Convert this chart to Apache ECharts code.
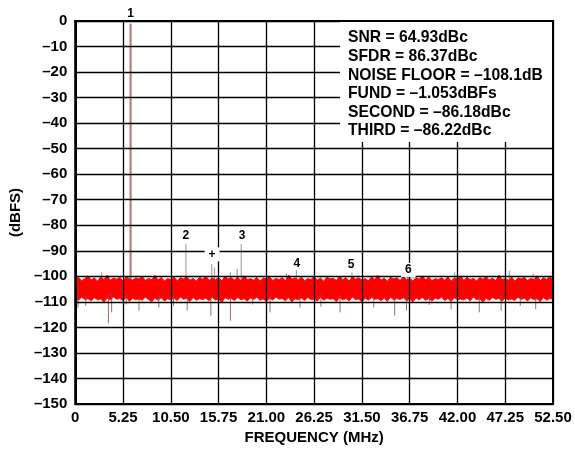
<!DOCTYPE html>
<html>
<head>
<meta charset="utf-8">
<script src="https://cdn.jsdelivr.net/npm/echarts@6/dist/echarts.min.js"></script>
<style>
html,body{margin:0;padding:0;background:#fff;}
#chart{width:575px;height:451px;}
</style>
</head>
<body>
<div id="chart"></div>
<script>
// ---- data ----
var xTickStep = 5.25;
var fundFreq = 6.08, fundLevel = -1.05;
var harmFreq = [12.16, 18.24];
var harmLevel = [-87.2, -87.3];
var noiseCenter = -105;
// noise floor band: upper and lower edges, equally spaced FFT bins from 0 to 52.5 MHz
var noiseUpper = [
-101.2,-100.5,-101.7,-100.9,-99.8,-101.4,-100.6,-101.9,-100.3,-101.2,
-99.6,-101.5,-100.7,-101.1,-100.4,-101.8,-100.2,-100.9,-101.5,-100.6,
-101.0,-100.1,-101.6,-100.8,-101.3,-99.7,-101.4,-100.5,-101.8,-100.9,
-101.2,-100.3,-101.7,-100.6,-101.0,-100.2,-101.5,-100.8,-101.9,-100.4,
-101.1,-99.9,-101.6,-100.7,-101.3,-100.5,-101.8,-100.1,-101.0,-100.6,
-101.4,-100.3,-101.7,-99.8,-101.2,-100.9,-101.5,-100.4,-101.9,-100.7,
-101.0,-100.2,-101.6,-100.8,-101.3,-100.5,-101.8,-99.6,-101.1,-100.6,
-101.4,-100.3,-101.7,-100.9,-101.2,-100.1,-101.5,-100.7,-101.9,-100.4,
-101.0,-100.8,-101.6,-99.9,-101.3,-100.5,-101.8,-100.2,-101.1,-100.6,
-101.4,-100.9,-101.7,-100.3,-101.2,-99.7,-101.5,-100.7,-101.9,-100.4,
-101.0,-100.6,-101.6,-100.1,-101.3,-100.8,-101.8,-100.5,-101.1,-99.8,
-101.4,-100.3,-101.7,-100.9,-101.2,-100.6,-101.5,-100.2,-101.9,-100.7,
-101.0,-99.9,-101.6,-100.4,-101.3,-100.8,-101.8,-100.5,-101.1,-100.1,
-101.4,-100.7,-101.7,-99.6,-101.2,-100.9,-101.5,-100.3,-101.9,-100.6,
-101.0,-100.4,-101.6,-100.8,-101.3,-99.8,-101.7,-100.5,-101.2,-100.2,
-101.1
];
var noiseLower = [
-108.7,-109.4,-108.2,-109.1,-108.8,-109.6,-108.4,-109.2,-108.9,-110.1,
-108.5,-109.3,-108.1,-109.0,-108.7,-109.5,-108.3,-109.8,-108.6,-109.2,
-108.9,-109.4,-108.2,-109.1,-110.0,-108.6,-109.3,-108.4,-109.7,-108.8,
-109.2,-108.5,-109.5,-108.1,-109.0,-108.7,-109.9,-108.3,-109.4,-108.8,
-109.1,-108.6,-109.6,-108.2,-109.3,-108.9,-110.2,-108.4,-109.0,-108.7,
-109.5,-108.3,-109.2,-108.8,-109.7,-108.5,-109.1,-108.2,-109.4,-108.9,
-109.8,-108.6,-109.3,-108.1,-109.0,-108.7,-109.6,-108.4,-110.0,-108.8,
-109.2,-108.5,-109.5,-108.3,-109.1,-108.9,-109.7,-108.2,-109.4,-108.6,
-109.0,-108.8,-109.9,-108.4,-109.3,-108.7,-109.6,-108.1,-109.2,-108.9,
-110.1,-108.5,-109.4,-108.3,-109.0,-108.8,-109.5,-108.6,-109.8,-108.2,
-109.3,-108.7,-109.1,-108.4,-109.6,-108.9,-110.0,-108.5,-109.2,-108.3,
-109.4,-108.8,-109.7,-108.6,-109.0,-108.2,-109.5,-108.7,-109.9,-108.4,
-109.1,-108.9,-109.3,-108.5,-109.6,-108.1,-109.2,-108.8,-110.1,-108.6,
-109.4,-108.3,-109.0,-108.7,-109.8,-108.5,-109.3,-108.9,-109.5,-108.2,
-109.1,-108.6,-109.7,-108.4,-109.2,-108.8,-109.9,-108.3,-109.4,-108.7,
-109.0
];
var spanMHz = 52.5;
// spurs poking above the noise band
var spurUpFreq  = [2.9, 15.0, 15.3, 17.05, 17.8, 23.2, 24.3, 30.4, 36.5, 41.7, 47.7, 50.3];
var spurUpLevel = [-98.4, -95.2, -96.5, -98.4, -97.1, -98.8, -97.5, -98.5, -98.8, -98.4, -97.8, -98.8];
// spurs dipping below the noise band
var spurDownFreq  = [0.3, 1.15, 3.64, 4.0, 5.6, 7.0, 9.18, 10.8, 12.3, 14.9, 17.05, 19.5, 21.4, 24.7, 27.0, 29.1, 32.8, 35.1, 36.4, 38.9, 41.3, 44.4, 46.8, 48.9, 50.6];
var spurDownLevel = [-112.2, -111.5, -118.4, -114.1, -111.0, -113.4, -112.2, -111.5, -113.4, -115.4, -117.4, -111.0, -114.1, -112.2, -111.8, -114.1, -112.2, -115.4, -113.4, -111.2, -112.9, -114.1, -113.4, -111.6, -112.9];
// annotation labels
var annText  = ['2', '3', '+', '4', '5', '6'];
var annFreq  = [12.14, 18.33, 15.04, 24.36, 30.3, 36.6];
var annLevel = [-84.2, -84.2, -91.4, -95.1, -95.5, -97.5];
var annBoxed = [false, false, true, false, false, true];
var statsLines = ['SNR = 64.93dBc', 'SFDR = 86.37dBc', 'NOISE FLOOR = \u2013108.1dB', 'FUND = \u20131.053dBFs', 'SECOND = \u201386.18dBc', 'THIRD = \u201386.22dBc'];

// ---- build series data ----
var step = spanMHz / (noiseUpper.length - 1);
var upperData = [], lowerData = [];
for (var i = 0; i < noiseUpper.length; i++) {
  upperData.push([i * step, noiseUpper[i]]);
  lowerData.push([i * step, noiseLower[i]]);
}
function spikes(fr, lv, from) {
  var d = [];
  for (var i = 0; i < fr.length; i++) {
    d.push([fr[i], from], [fr[i], lv[i]], '-');
  }
  return d;
}
var upData = spikes(spurUpFreq.concat(harmFreq), spurUpLevel.concat(harmLevel), noiseCenter);
var downData = spikes(spurDownFreq, spurDownLevel, -107);
var fundData = [[fundFreq, noiseCenter], [fundFreq, fundLevel]];

var annData = annText.map(function(t, i){
  return {
    coord: [annFreq[i], annLevel[i]],
    label: {
      formatter: t,
      backgroundColor: annBoxed[i] ? '#fff' : 'transparent',
      padding: annBoxed[i] ? [1, 4, 1, 4] : 0
    }
  };
});

var FONT = 'Liberation Sans, Arial, sans-serif';
var chart = echarts.init(document.getElementById('chart'), null, {renderer: 'canvas'});
var statsGraphics = [{
  type: 'rect', left: 340, top: 22, z: 10,
  shape: {width: 212, height: 120},
  style: {fill: '#fff'}
}];
statsLines.forEach(function(t, i){
  statsGraphics.push({
    type: 'text', left: 348, top: 30 + i * 18.6, z: 11,
    style: {text: t, fill: '#000', font: 'bold 15.7px ' + FONT}
  });
});

chart.setOption({
  animation: false,
  backgroundColor: '#fff',
  grid: {left: 74, right: 22, top: 21, bottom: 47, show: true, borderColor: '#000', borderWidth: 2, z: 4, backgroundColor: 'transparent'},
  xAxis: {
    type: 'value', min: 0, max: spanMHz, interval: xTickStep, z: 4,
    name: 'FREQUENCY (MHz)', nameLocation: 'middle', nameGap: 25,
    nameTextStyle: {fontFamily: FONT, fontWeight: 'bold', fontSize: 15, color: '#000'},
    axisLine: {show: true, lineStyle: {color: '#000', width: 2}},
    axisTick: {show: false},
    axisLabel: {color: '#000', fontFamily: FONT, fontWeight: 'bold', fontSize: 15, margin: 6,
      formatter: function(v){ return v === 0 ? '0' : v.toFixed(2); }},
    splitLine: {show: true, lineStyle: {color: '#000', width: 1.3}}
  },
  yAxis: {
    type: 'value', min: -150, max: 0, interval: 10, z: 4,
    name: '(dBFS)', nameLocation: 'middle', nameGap: 48, nameRotate: 90,
    nameTextStyle: {fontFamily: FONT, fontWeight: 'bold', fontSize: 15, color: '#000'},
    axisLine: {show: true, lineStyle: {color: '#000', width: 2}},
    axisTick: {show: false},
    axisLabel: {color: '#000', fontFamily: FONT, fontWeight: 'bold', fontSize: 15, margin: 8,
      formatter: function(v){ return v === 0 ? '0' : '\u2013' + Math.abs(v); }},
    splitLine: {show: true, lineStyle: {color: '#000', width: 1.3}}
  },
  graphic: statsGraphics,
  series: [
    {type: 'line', name: 'above', data: upData, z: 1, symbol: 'none', silent: true,
      lineStyle: {color: '#b0a0a0', width: 1.2}},
    {type: 'line', name: 'fund', data: fundData, z: 1, symbol: 'none', silent: true,
      lineStyle: {color: '#ad8585', width: 2.2},
      markPoint: {
        symbol: 'circle', symbolSize: 0, z: 6,
        label: {show: true, color: '#000', fontFamily: FONT, fontWeight: 'bold', fontSize: 12, position: 'top', distance: 4},
        data: [{coord: [fundFreq, fundLevel], label: {formatter: '1'}}]
      }},
    {type: 'line', name: 'upper', data: upperData, z: 2, symbol: 'none', silent: true,
      lineStyle: {color: '#ff0000', width: 1},
      areaStyle: {color: '#ff0000', opacity: 1, origin: 'start'},
      markPoint: {
        symbol: 'circle', symbolSize: 0, z: 6,
        label: {show: true, color: '#000', fontFamily: FONT, fontWeight: 'bold', fontSize: 12, position: 'inside'},
        data: annData
      }},
    {type: 'line', name: 'lower', data: lowerData, z: 3, symbol: 'none', silent: true,
      lineStyle: {color: '#e82020', width: 1},
      areaStyle: {color: '#ffffff', opacity: 1, origin: 'start'}},
    {type: 'line', name: 'below', data: downData, z: 3, symbol: 'none', silent: true,
      lineStyle: {color: '#8e4b4b', width: 1, opacity: 0.85}}
  ]
});
</script>
</body>
</html>
